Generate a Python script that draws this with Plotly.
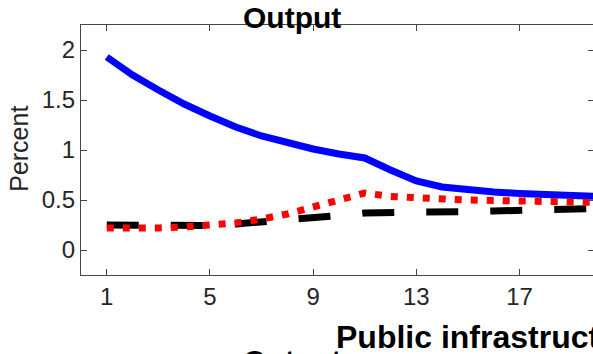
import plotly.graph_objects as go

# Impulse responses of output (percent) over 20 quarters
quarters = list(range(1, 21))
resp_solid = [1.93, 1.75, 1.60, 1.46, 1.34, 1.23, 1.14, 1.07, 1.01, 0.96,
              0.92, 0.80, 0.69, 0.63, 0.60, 0.58, 0.565, 0.555, 0.545, 0.535]
resp_dashed = [0.25, 0.25, 0.245, 0.24, 0.245, 0.26, 0.28, 0.30, 0.31, 0.345,
               0.37, 0.37, 0.375, 0.38, 0.385, 0.39, 0.40, 0.405, 0.41, 0.415]
resp_dotted = [0.22, 0.215, 0.22, 0.23, 0.25, 0.27, 0.31, 0.36, 0.43, 0.50,
               0.57, 0.535, 0.52, 0.51, 0.50, 0.495, 0.49, 0.485, 0.48, 0.475]

x_ticks = [1, 5, 9, 13, 17]
y_ticks = [0, 0.5, 1, 1.5, 2]

FONT = "Arial, Liberation Sans, Helvetica, sans-serif"
AX_COLOR = "rgb(70,70,70)"
TXT_COLOR = "rgb(38,38,38)"

fig = go.Figure()
fig.add_trace(go.Scatter(x=quarters, y=resp_solid, mode="lines",
                         line=dict(color="#0000FF", width=7)))
fig.add_trace(go.Scatter(x=quarters, y=resp_dashed, mode="lines",
                         line=dict(color="#000000", width=7, dash="32px,32px")))
fig.add_trace(go.Scatter(x=quarters, y=resp_dotted, mode="lines",
                         line=dict(color="#FF0000", width=7, dash="7px,9px")))
# invisible trace that carries the right-hand tick marks
fig.add_trace(go.Scatter(x=[1], y=[0], yaxis="y2", mode="markers",
                         marker=dict(opacity=0), hoverinfo="skip"))

fig.update_layout(
    width=593, height=354,
    margin=dict(l=81, r=0, t=25, b=79),
    paper_bgcolor="white", plot_bgcolor="white",
    showlegend=False,
    font=dict(family=FONT, color=TXT_COLOR),
    xaxis=dict(range=[0, 19.85], tickvals=x_ticks, ticks="inside", ticklen=6,
               tickcolor=AX_COLOR, tickwidth=1.3, showline=True, linecolor=AX_COLOR,
               linewidth=1.3, mirror="ticks", showgrid=False, zeroline=False,
               tickfont=dict(size=24, color=TXT_COLOR, family=FONT)),
    yaxis=dict(range=[-0.25, 2.25], tickvals=y_ticks, ticktext=["0", "0.5", "1", "1.5", "2"],
               ticks="inside", ticklen=6, tickcolor=AX_COLOR, tickwidth=1.3,
               showline=True, linecolor=AX_COLOR, linewidth=1.3, showgrid=False,
               zeroline=False, tickfont=dict(size=24, color=TXT_COLOR, family=FONT)),
    yaxis2=dict(range=[-0.25, 2.25], tickvals=y_ticks, overlaying="y", side="right",
                ticks="inside", ticklen=5, tickcolor=AX_COLOR, tickwidth=1.3,
                showticklabels=False, showline=False, showgrid=False, zeroline=False),
)

fig.add_annotation(text="<b>Output</b>", xref="paper", yref="paper", x=0.413, y=1.03,
                   xanchor="center", yanchor="middle", showarrow=False,
                   font=dict(size=30, color="black", family=FONT))
fig.add_annotation(text="Percent", xref="paper", yref="paper", x=-0.121, y=0.505,
                   textangle=-90, xanchor="center", yanchor="middle", showarrow=False,
                   font=dict(size=25, color=TXT_COLOR, family=FONT))
fig.add_annotation(text="<b>Public infrastructure</b>", xref="paper", yref="paper",
                   x=0.494, y=-0.247, xanchor="left", yanchor="middle", showarrow=False,
                   font=dict(size=32, color="black", family=FONT))
fig.add_annotation(text="<b>Output</b>", xref="paper", yref="paper", x=0.413, y=-0.343,
                   xanchor="center", yanchor="middle", showarrow=False,
                   font=dict(size=30, color="black", family=FONT))

fig.write_html("out.html")
